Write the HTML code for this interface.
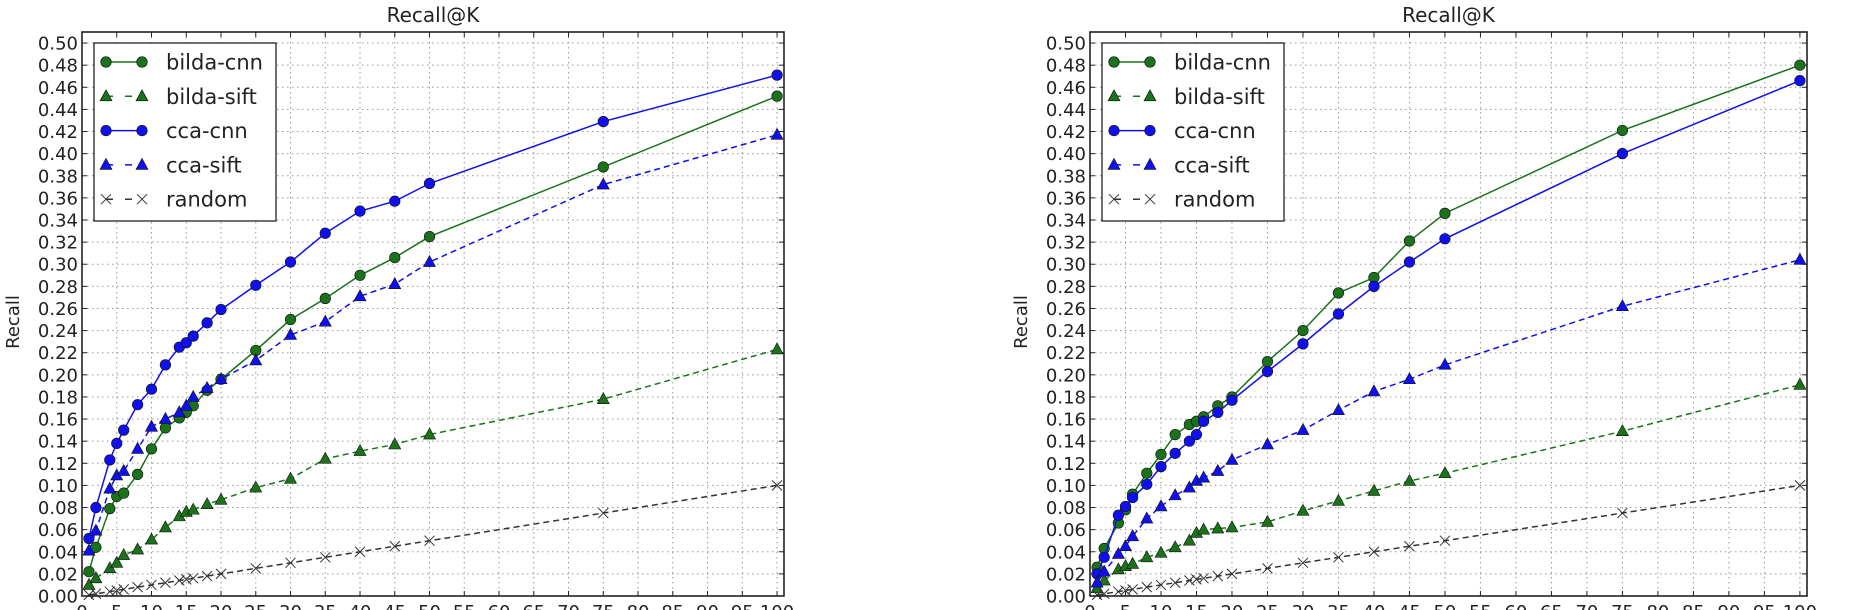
<!DOCTYPE html>
<html><head><meta charset="utf-8"><style>
html,body{margin:0;padding:0;background:#fff;width:1857px;height:610px;overflow:hidden}
svg text{font-family:"DejaVu Sans","Liberation Sans",sans-serif;fill:#222}
</style></head><body>
<svg id="c" width="1857" height="610" xmlns="http://www.w3.org/2000/svg"></svg>
<script>
const kValues=[1,2,4,5,6,8,10,12,14,15,16,18,20,25,30,35,40,45,50,75,100];
const xTicks=[0,5,10,15,20,25,30,35,40,45,50,55,60,65,70,75,80,85,90,95,100];
const yTicks=[0,0.02,0.04,0.06,0.08,0.10,0.12,0.14,0.16,0.18,0.20,0.22,0.24,0.26,0.28,0.30,0.32,0.34,0.36,0.38,0.40,0.42,0.44,0.46,0.48,0.50];
const seriesNames=["bilda-cnn","bilda-sift","cca-cnn","cca-sift","random"];
const leftBildaCnn=[0.022,0.044,0.079,0.090,0.093,0.110,0.133,0.152,0.161,0.166,0.172,0.186,0.196,0.222,0.250,0.269,0.290,0.306,0.325,0.388,0.452];
const leftBildaSift=[0.010,0.016,0.025,0.030,0.037,0.042,0.051,0.062,0.072,0.076,0.078,0.083,0.087,0.098,0.106,0.124,0.131,0.137,0.146,0.178,0.223];
const leftCcaCnn=[0.052,0.080,0.123,0.138,0.150,0.173,0.187,0.209,0.225,0.229,0.235,0.247,0.259,0.281,0.302,0.328,0.348,0.357,0.373,0.429,0.471];
const leftCcaSift=[0.041,0.059,0.097,0.109,0.113,0.133,0.153,0.160,0.166,0.172,0.180,0.188,0.196,0.213,0.236,0.248,0.271,0.282,0.302,0.372,0.417];
const randomRecall=[0.001,0.002,0.004,0.005,0.006,0.008,0.010,0.012,0.014,0.015,0.016,0.018,0.020,0.025,0.030,0.035,0.040,0.045,0.050,0.075,0.100];
const rightBildaCnn=[0.026,0.043,0.066,0.078,0.092,0.111,0.128,0.146,0.155,0.158,0.162,0.172,0.180,0.212,0.240,0.274,0.288,0.321,0.346,0.421,0.480];
const rightBildaSift=[0.007,0.014,0.024,0.027,0.029,0.035,0.039,0.044,0.050,0.057,0.060,0.061,0.062,0.067,0.077,0.086,0.095,0.104,0.111,0.149,0.191];
const rightCcaCnn=[0.020,0.035,0.073,0.081,0.089,0.101,0.117,0.129,0.140,0.146,0.158,0.166,0.177,0.203,0.228,0.255,0.280,0.302,0.323,0.400,0.466];
const rightCcaSift=[0.012,0.022,0.038,0.045,0.054,0.070,0.081,0.091,0.098,0.104,0.107,0.113,0.123,0.137,0.150,0.168,0.185,0.196,0.209,0.262,0.304];

const NS="http://www.w3.org/2000/svg";
const svg=document.getElementById('c');
const G="#1a721a",B="#1010ee",K="#333";
const styles=[{c:G,m:'o',d:null},{c:G,m:'^',d:'6,4'},{c:B,m:'o',d:null},{c:B,m:'^',d:'6,4'},{c:K,m:'x',d:'6,4'}];
function mk(tag,attrs,parent){const e=document.createElementNS(NS,tag);for(const k in attrs)e.setAttribute(k,attrs[k]);(parent||svg).appendChild(e);return e;}

function drawPlot(x0,x1,id,data){
  const y0=596,y1=32;
  const sx=v=>x0+(x1-x0)*v/101, sy=v=>y0-(y0-y1)*v/0.51;
  const g=mk('g',{});
  
  
  const grid=mk('g',{stroke:'#999','stroke-width':1,'stroke-dasharray':'1.5,3.5'},g);
  
  
  xTicks.forEach(t=>{mk('line',{x1:sx(t),x2:sx(t),y1:y1,y2:y0},grid);});
  yTicks.forEach(t=>{mk('line',{x1:x0,x2:x1,y1:sy(t),y2:sy(t)},grid);});
  const tk=mk('g',{stroke:'#222','stroke-width':1},g);
  xTicks.forEach(t=>{const x=sx(t);mk('line',{x1:x,x2:x,y1:y0,y2:y0-5},tk);mk('line',{x1:x,x2:x,y1:y1,y2:y1+5},tk);});
  yTicks.forEach(t=>{const y=sy(t);mk('line',{x1:x0,x2:x0+5,y1:y,y2:y},tk);mk('line',{x1:x1,x2:x1-5,y1:y,y2:y},tk);});
  const yl=mk('g',{'font-size':18,'text-anchor':'end'},g);
  
  
  yTicks.forEach(t=>{const e=mk('text',{x:x0-4,y:sy(t)+6.5},yl);e.textContent=t.toFixed(2);});
  const xl=mk('g',{'font-size':18,'text-anchor':'middle'},g);
  
  
  xTicks.forEach(t=>{const e=mk('text',{x:sx(t),y:618},xl);e.textContent=t;});
  const ti=mk('text',{x:(x0+x1)/2,y:22,'font-size':20,'text-anchor':'middle'},g);ti.textContent='Recall@K';
  
  
  const yt=mk('text',{x:0,y:0,'font-size':18,'text-anchor':'middle',transform:`translate(${x0-63},322) rotate(-90)`},g);yt.textContent='Recall';
  
  
  data.forEach((vals,i)=>{
    const s=styles[i];
    const sg=mk('g',{},g);
    
    
    const pts=kValues.map((k,j)=>sx(k)+','+sy(vals[j])).join(' ');
    const pl=mk('polyline',{points:pts,fill:'none',stroke:s.c,'stroke-width':1.5},sg);
    if(s.d)pl.setAttribute('stroke-dasharray',s.d);
    kValues.forEach((k,j)=>marker(sg,s,sx(k),sy(vals[j])));
  });
  mk('rect',{x:x0,y:y1,width:x1-x0,height:y0-y1,fill:'none',stroke:'#222','stroke-width':1.6},g);
  const lx=x0+12,ly=43;
  const lg=mk('g',{},g);
  
  
  mk('rect',{x:lx,y:ly,width:182,height:178,fill:'#fff',stroke:'#222','stroke-width':1.3},lg);
  seriesNames.forEach((n,i)=>{
    const s=styles[i],y=62+i*34.3;
    const en=mk('g',{},lg);
    
    
    const l=mk('line',{x1:lx+12,x2:lx+48,y1:y,y2:y,stroke:s.c,'stroke-width':1.5},en);
    if(s.d)l.setAttribute('stroke-dasharray','7,12');
    marker(en,s,lx+12,y);marker(en,s,lx+48,y);
    const t=mk('text',{x:lx+72,y:y+7.5,'font-size':21},en);t.textContent=n;
  });
}
function marker(p,s,x,y){
  if(s.m==='o')mk('circle',{cx:x,cy:y,r:5.3,fill:s.c,stroke:'#111','stroke-width':0.6},p);
  else if(s.m==='^')mk('polygon',{points:`${x},${y-6.5} ${x+6},${y+4.5} ${x-6},${y+4.5}`,fill:s.c,stroke:'#111','stroke-width':0.6},p);
  else{mk('path',{d:`M${x-5},${y-5}L${x+5},${y+5}M${x-5},${y+5}L${x+5},${y-5}`,stroke:'#333','stroke-width':1},p);}
}
drawPlot(82,784,'left-recall-chart',[leftBildaCnn,leftBildaSift,leftCcaCnn,leftCcaSift,randomRecall]);
drawPlot(1090,1807,'right-recall-chart',[rightBildaCnn,rightBildaSift,rightCcaCnn,rightCcaSift,randomRecall]);
</script>
</body></html>
